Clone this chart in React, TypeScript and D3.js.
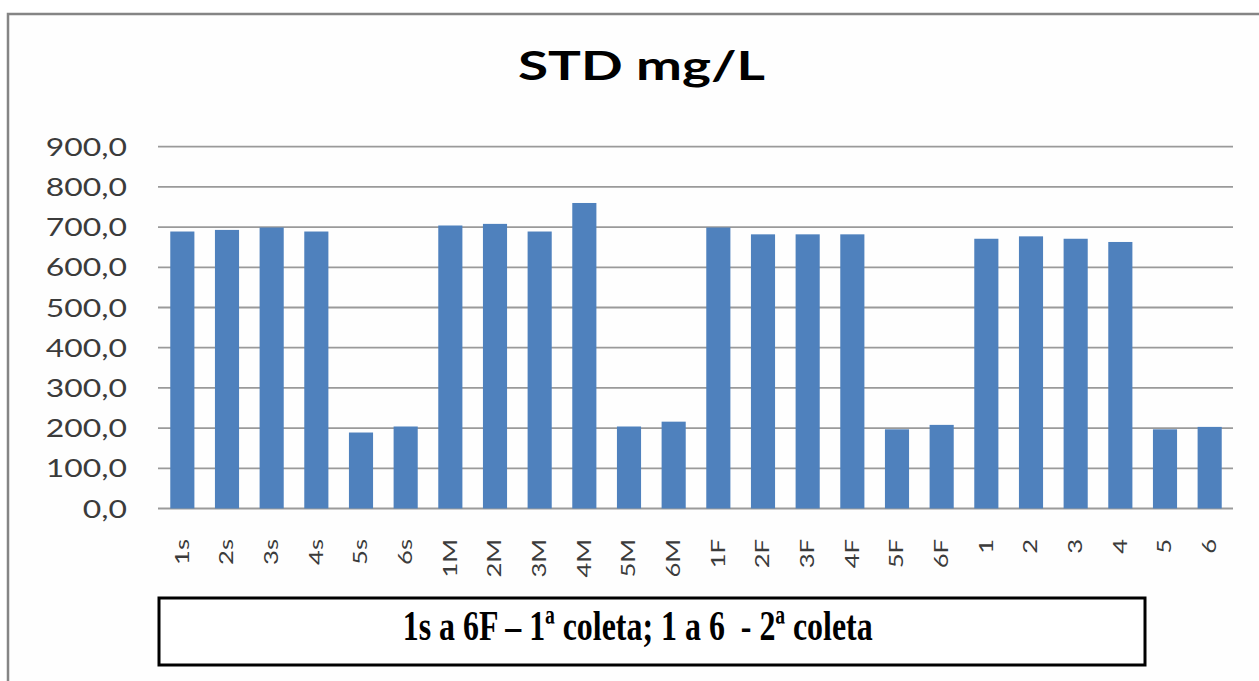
import React from "react";
import * as d3 from "d3";

const categories = ["1s","2s","3s","4s","5s","6s","1M","2M","3M","4M","5M","6M","1F","2F","3F","4F","5F","6F","1","2","3","4","5","6"];
const values = [689,693,699,689,189,204,704,708,689,760,204,216,699,682,682,682,197,208,671,677,671,663,197,203];
const yTicks = [0,100,200,300,400,500,600,700,800,900];
const title = "STD mg/L";
const note = "1s a 6F \u2013 1\u00aa coleta; 1 a 6  - 2\u00aa coleta";

export default function App() {
  const W = 1259, H = 681;
  const x = d3.scaleBand<string>().domain(categories).range([160, 1232]).padding(0);
  const y = d3.scaleLinear().domain([0, 900]).range([508.5, 146.7]);
  const bw = x.bandwidth() * 0.54;
  const fmt = (v: number) => d3.format(".1f")(v).replace(".", ",");
  return (
    <svg width={W} height={H} style={{ position: "absolute", left: 0, top: 0, display: "block", background: "#fff" }}>
      <rect x={8} y={14} width={1400} height={800} fill="#fefefe" stroke="#858585" strokeWidth={2.5} />
      <text x={641.5} y={80} textAnchor="middle" fontFamily="Lato" fontWeight="bold" fontSize={41} fill="#000" textLength={247} lengthAdjust="spacingAndGlyphs">{title}</text>
      {yTicks.map((t) => (
        <g key={t}>
          <line x1={158} x2={1233} y1={y(t)} y2={y(t)} stroke="#9a9a9a" strokeWidth={1.8} />
          <text transform={`translate(127,${y(t)}) scale(1.25,1)`} textAnchor="end" dy="0.36em" fontFamily="Lato" fontSize={25.5} fill="#3b3b3b">{fmt(t)}</text>
        </g>
      ))}
      {categories.map((c, i) => {
        const cx = (x(c) as number) + x.bandwidth() / 2;
        return (
          <g key={c}>
            <rect x={cx - bw / 2} y={y(values[i])} width={bw} height={y(0) - y(values[i])} fill="#4f81bd" />
            <text transform={`translate(${cx - 1},539) rotate(-90) scale(1.28,1)`} textAnchor="end" dy="0.36em" fontFamily="Lato" fontSize={20} fill="#3b3b3b">{c}</text>
          </g>
        );
      })}
      <rect x={159} y={598} width={986} height={67} fill="#fff" stroke="#000" strokeWidth={3} />
      <text x={637.7} y={640} textAnchor="middle" fontFamily="Liberation Serif" fontWeight="bold" fontSize={42} fill="#000" textLength={470} lengthAdjust="spacingAndGlyphs" style={{ whiteSpace: "pre" }}>{note}</text>
    </svg>
  );
}
